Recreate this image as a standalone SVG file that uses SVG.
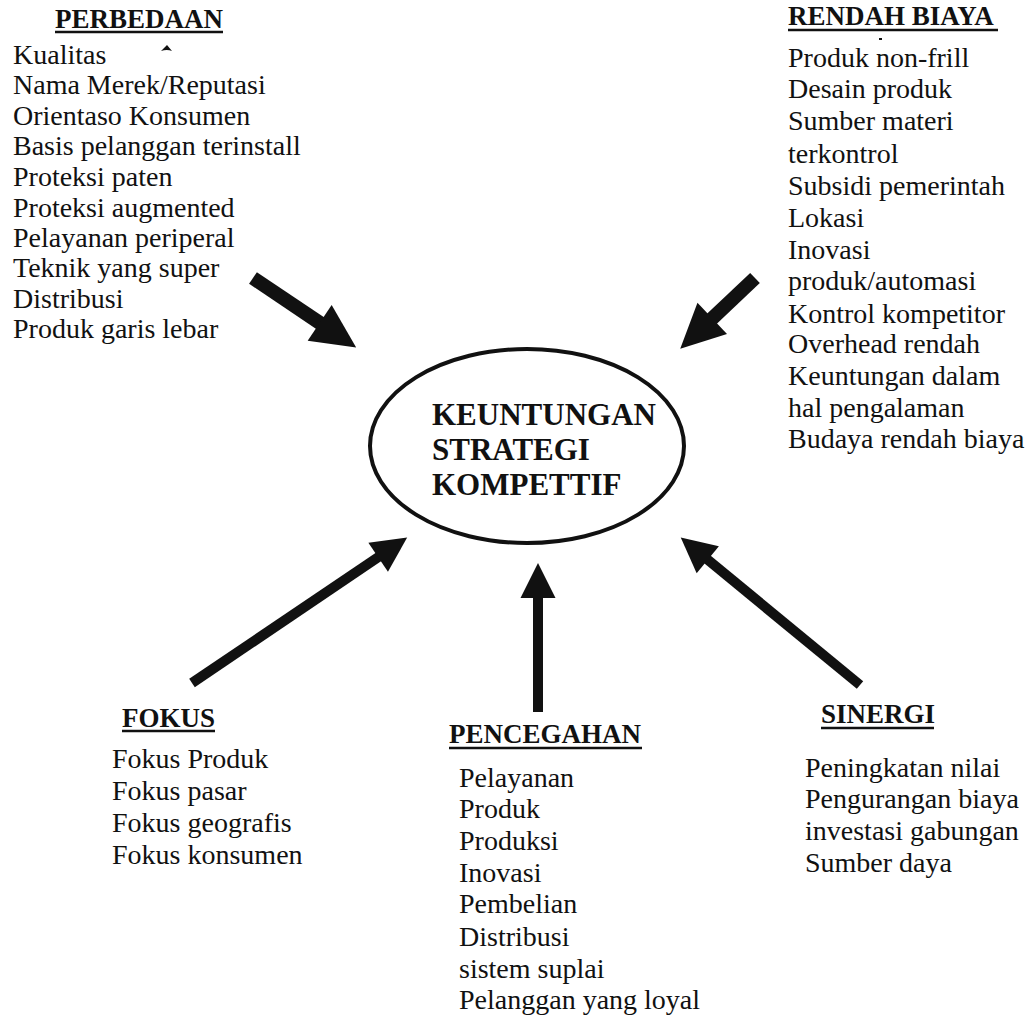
<svg xmlns="http://www.w3.org/2000/svg" width="1027" height="1016" viewBox="0 0 1027 1016">
  <style>
    text { font-family: "Liberation Serif", "Times New Roman", serif; fill: #111; }
    .item { font-size: 28px; }
    .title { font-size: 27px; font-weight: bold; }
    .core { font-size: 31px; font-weight: bold; }
    .ul { stroke: #111; stroke-width: 2.5; }
    .shaft-big { stroke: #111; stroke-width: 14; fill: none; }
    .shaft-small { stroke: #111; stroke-width: 10; fill: none; }
  </style>
  <defs>
    <marker id="head-big" markerUnits="userSpaceOnUse" viewBox="0 0 44 43" markerWidth="44" markerHeight="43" refX="1" refY="21.5" orient="auto" overflow="visible">
      <path d="M0,0 L44,21.5 L0,43 Z" fill="#111"/>
    </marker>
    <marker id="head-small" markerUnits="userSpaceOnUse" viewBox="0 0 35 35" markerWidth="35" markerHeight="35" refX="1" refY="17.5" orient="auto" overflow="visible">
      <path d="M0,0 L35,17.5 L0,35 Z" fill="#111"/>
    </marker>
  </defs>
  <rect width="1027" height="1016" fill="#fff"/>

  <!-- central node -->
  <g id="core">
    <ellipse cx="527" cy="446" rx="157" ry="97" fill="none" stroke="#111" stroke-width="4"/>
    <text class="core" x="432" y="425">KEUNTUNGAN</text>
    <text class="core" x="432" y="460">STRATEGI</text>
    <text class="core" x="432" y="495">KOMPETTIF</text>
  </g>

  <!-- top-left group -->
  <g id="perbedaan">
    <text class="title" x="55" y="28">PERBEDAAN</text>
    <line class="ul" x1="55" y1="32" x2="223" y2="32"/>
    <path d="M161,51 L167,45 L172,51 Q167,49 161,51 Z" fill="#111"/>
    <text class="item" x="13" y="64">Kualitas</text>
    <text class="item" x="13" y="94">Nama Merek/Reputasi</text>
    <text class="item" x="13" y="125">Orientaso Konsumen</text>
    <text class="item" x="13" y="155">Basis pelanggan terinstall</text>
    <text class="item" x="13" y="186">Proteksi paten</text>
    <text class="item" x="13" y="217">Proteksi augmented</text>
    <text class="item" x="13" y="247">Pelayanan periperal</text>
    <text class="item" x="13" y="277">Teknik yang super</text>
    <text class="item" x="13" y="308">Distribusi</text>
    <text class="item" x="13" y="338">Produk garis lebar</text>
  </g>

  <!-- top-right group -->
  <g id="rendah-biaya">
    <text class="title" x="788" y="25">RENDAH BIAYA</text>
    <line class="ul" x1="788" y1="30" x2="998" y2="30"/>
    <rect x="879" y="38" width="3" height="2" fill="#111"/>
    <text class="item" x="788" y="67">Produk non-frill</text>
    <text class="item" x="788" y="98">Desain produk</text>
    <text class="item" x="788" y="130">Sumber materi</text>
    <text class="item" x="788" y="163">terkontrol</text>
    <text class="item" x="788" y="195">Subsidi pemerintah</text>
    <text class="item" x="788" y="227">Lokasi</text>
    <text class="item" x="788" y="259">Inovasi</text>
    <text class="item" x="788" y="290">produk/automasi</text>
    <text class="item" x="788" y="323">Kontrol kompetitor</text>
    <text class="item" x="788" y="353">Overhead rendah</text>
    <text class="item" x="788" y="385">Keuntungan dalam</text>
    <text class="item" x="788" y="417">hal pengalaman</text>
    <text class="item" x="788" y="448">Budaya rendah biaya</text>
  </g>

  <!-- bottom-left group -->
  <g id="fokus">
    <text class="title" x="122" y="727">FOKUS</text>
    <line class="ul" x1="122" y1="731" x2="215" y2="731"/>
    <text class="item" x="112" y="768">Fokus Produk</text>
    <text class="item" x="112" y="800">Fokus pasar</text>
    <text class="item" x="112" y="832">Fokus geografis</text>
    <text class="item" x="112" y="864">Fokus konsumen</text>
  </g>

  <!-- bottom-middle group -->
  <g id="pencegahan">
    <text class="title" x="449" y="743">PENCEGAHAN</text>
    <line class="ul" x1="449" y1="748" x2="642" y2="748"/>
    <text class="item" x="459" y="787">Pelayanan</text>
    <text class="item" x="459" y="818">Produk</text>
    <text class="item" x="459" y="850">Produksi</text>
    <text class="item" x="459" y="882">Inovasi</text>
    <text class="item" x="459" y="913">Pembelian</text>
    <text class="item" x="459" y="946">Distribusi</text>
    <text class="item" x="459" y="978">sistem suplai</text>
    <text class="item" x="459" y="1009">Pelanggan yang loyal</text>
  </g>

  <!-- bottom-right group -->
  <g id="sinergi">
    <text class="title" x="821" y="723">SINERGI</text>
    <line class="ul" x1="821" y1="728" x2="934" y2="728"/>
    <text class="item" x="805" y="777">Peningkatan nilai</text>
    <text class="item" x="805" y="808">Pengurangan biaya</text>
    <text class="item" x="805" y="840">investasi gabungan</text>
    <text class="item" x="805" y="872">Sumber daya</text>
  </g>

  <!-- arrows pointing into the central node -->
  <g id="connectors">
    <line class="shaft-big" x1="253" y1="278" x2="320.5" y2="323.4" marker-end="url(#head-big)"/>
    <line class="shaft-big" x1="755" y1="278" x2="711.5" y2="319.1" marker-end="url(#head-big)"/>
    <line class="shaft-small" x1="192" y1="683" x2="379" y2="556.6" marker-end="url(#head-small)"/>
    <line class="shaft-small" x1="538" y1="712" x2="538" y2="597" marker-end="url(#head-small)"/>
    <line class="shaft-small" x1="860" y1="685" x2="707" y2="559.2" marker-end="url(#head-small)"/>
  </g>
</svg>
